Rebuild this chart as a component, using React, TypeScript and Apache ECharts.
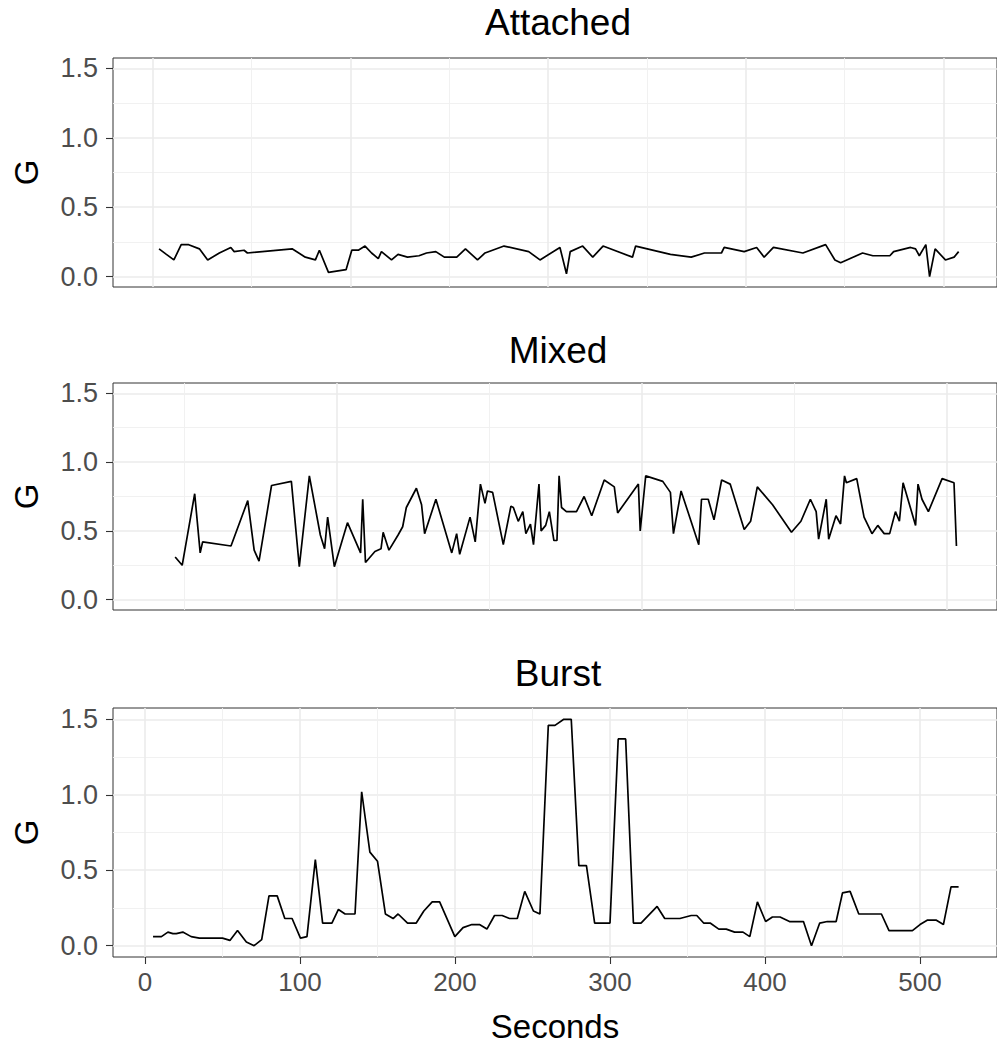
import React, { useEffect, useRef } from "react";
import * as echarts from "echarts";

// ---------- data ----------
const panelTitles = ["Attached", "Mixed", "Burst"];
const yTickValues = [0, 0.5, 1.0, 1.5];
const secondsTicks = [0, 100, 200, 300, 400, 500];
const attachedGridTicks = [0, 100, 200, 300, 400];
const mixedGridTicks = [100, 200, 300];

const attachedX = [3.2, 6.9, 10.7, 14.4, 18.2, 23.6, 27.8, 33.7, 39.5, 41.2, 46.2, 47.9, 70.5, 77.2, 82.3, 84.3, 88.9, 97.8, 100.7, 104, 107.4, 110.7, 114.1, 115.7, 120.8, 124.1, 128.9, 134.7, 138.5, 143.2, 147.5, 153.8, 158.2, 164.3, 168.1, 177.7, 190.2, 195.9, 206, 209.3, 211.2, 217.5, 222.6, 227.8, 242.7, 244.3, 261.9, 272.4, 279.1, 287.7, 289.1, 299.2, 305.5, 309.3, 314, 328.9, 340.4, 345.1, 348, 359.1, 364.3, 372.9, 374.8, 383.4, 385.9, 387.8, 391.1, 393, 395.8, 401, 405.4, 407.7];
const attachedG = [0.2, 0.16, 0.12, 0.23, 0.23, 0.2, 0.12, 0.17, 0.21, 0.18, 0.19, 0.17, 0.2, 0.14, 0.12, 0.19, 0.03, 0.05, 0.19, 0.19, 0.22, 0.17, 0.13, 0.18, 0.12, 0.16, 0.14, 0.15, 0.17, 0.18, 0.14, 0.14, 0.2, 0.12, 0.17, 0.22, 0.18, 0.12, 0.21, 0.02, 0.18, 0.22, 0.14, 0.22, 0.14, 0.22, 0.16, 0.14, 0.17, 0.17, 0.21, 0.18, 0.21, 0.14, 0.21, 0.17, 0.23, 0.12, 0.1, 0.17, 0.15, 0.15, 0.18, 0.21, 0.2, 0.15, 0.23, 0.0, 0.2, 0.12, 0.14, 0.18];

const mixedX = [47.1, 49.4, 53.5, 55.3, 56.1, 65.4, 70.9, 73, 74.6, 78.7, 85.2, 87.8, 91.1, 94.7, 96.1, 97.1, 99.3, 103.6, 107.9, 108.6, 109.5, 112.6, 114.6, 115.3, 117.2, 120.2, 121.7, 122.9, 126.2, 127.9, 128.9, 132.6, 137.8, 139.4, 140.4, 143.8, 145.5, 147.2, 148.7, 149.5, 151.2, 154.7, 157.2, 158, 159.6, 161.1, 162.1, 163.6, 164.6, 166.4, 167.1, 168.6, 169.8, 171.3, 172.3, 173, 173.8, 175.4, 178.7, 181.2, 183.7, 187.8, 191.1, 192.2, 199, 199.6, 201.4, 207, 209.5, 210.5, 213, 218.8, 219.7, 221.9, 223.8, 226.3, 229.1, 233.7, 235.8, 238, 243, 249.2, 252.3, 255.4, 257.3, 258.1, 260.6, 261.4, 263.8, 265.3, 266.6, 267.2, 270.6, 273, 275.6, 277.5, 279.6, 281.4, 283.3, 284.6, 285.8, 289.9, 290.7, 292, 294.1, 298.6, 302.5, 303.3];
const mixedG = [0.31, 0.25, 0.77, 0.34, 0.42, 0.39, 0.72, 0.36, 0.28, 0.83, 0.86, 0.24, 0.9, 0.47, 0.37, 0.6, 0.24, 0.56, 0.34, 0.73, 0.27, 0.35, 0.37, 0.49, 0.36, 0.47, 0.53, 0.67, 0.81, 0.69, 0.48, 0.73, 0.34, 0.48, 0.33, 0.6, 0.42, 0.84, 0.7, 0.79, 0.78, 0.4, 0.68, 0.67, 0.57, 0.64, 0.48, 0.55, 0.4, 0.84, 0.5, 0.54, 0.64, 0.43, 0.43, 0.9, 0.67, 0.64, 0.64, 0.75, 0.61, 0.87, 0.82, 0.63, 0.84, 0.5, 0.9, 0.86, 0.78, 0.48, 0.79, 0.4, 0.73, 0.73, 0.58, 0.87, 0.84, 0.51, 0.57, 0.82, 0.69, 0.49, 0.57, 0.73, 0.64, 0.44, 0.73, 0.44, 0.61, 0.55, 0.9, 0.85, 0.88, 0.6, 0.48, 0.54, 0.48, 0.48, 0.64, 0.57, 0.85, 0.54, 0.84, 0.73, 0.64, 0.88, 0.85, 0.39];

const burstSeconds = [5.2, 10.6, 14.8, 18, 20.2, 24.4, 29.8, 35.1, 50, 54.8, 59.7, 65.4, 70.4, 75.3, 80, 85.3, 90.2, 94.9, 100.3, 104.5, 109.9, 114.6, 120.6, 124.8, 129.1, 135.5, 139.8, 145.1, 150, 155.1, 160.1, 163.3, 169.4, 175, 179.9, 185.3, 190.1, 199.9, 205.2, 210.9, 215.8, 220.6, 225.5, 230.4, 235.2, 240.2, 245, 250.6, 254.8, 260.2, 264.5, 270.2, 275, 279.9, 284.8, 290.1, 300, 305.3, 310.1, 315.1, 320, 330.4, 335.3, 345.1, 352.4, 356, 360.4, 364.6, 370.2, 375, 380.4, 385.8, 390.2, 395.1, 400.4, 404.8, 409.7, 415.8, 424.8, 430, 435.3, 440.2, 445.9, 450, 454.9, 460.5, 465.9, 475.1, 480, 485.4, 495.1, 500, 504.9, 510.3, 515.1, 520, 524.9];
const burstG = [0.06, 0.06, 0.09, 0.08, 0.08, 0.09, 0.06, 0.05, 0.05, 0.035, 0.1, 0.025, 0.0, 0.04, 0.33, 0.33, 0.18, 0.18, 0.05, 0.06, 0.57, 0.15, 0.15, 0.24, 0.21, 0.21, 1.02, 0.62, 0.56, 0.21, 0.18, 0.21, 0.15, 0.15, 0.23, 0.29, 0.29, 0.06, 0.12, 0.14, 0.14, 0.11, 0.2, 0.2, 0.18, 0.18, 0.36, 0.23, 0.21, 1.46, 1.46, 1.5, 1.5, 0.53, 0.53, 0.15, 0.15, 1.37, 1.37, 0.15, 0.15, 0.26, 0.18, 0.18, 0.2, 0.2, 0.15, 0.15, 0.11, 0.11, 0.09, 0.09, 0.06, 0.29, 0.16, 0.19, 0.19, 0.16, 0.16, 0.0, 0.15, 0.16, 0.16, 0.35, 0.36, 0.21, 0.21, 0.21, 0.1, 0.1, 0.1, 0.14, 0.17, 0.17, 0.14, 0.39, 0.39];

const FONT = "'Liberation Sans', Arial, Helvetica, sans-serif";

export default function App() {
  const ref = useRef<HTMLDivElement>(null);

  useEffect(() => {
    if (!ref.current) return;
    const chart = echarts.init(ref.current, null, { renderer: "svg" });

    const grids = [
      { left: 113, top: 58, width: 890, height: 229 },
      { left: 113, top: 383, width: 890, height: 227 },
      { left: 113, top: 708, width: 890, height: 249 },
    ].map((g) => ({ ...g, show: true, borderColor: "#333333", borderWidth: 1, backgroundColor: "#ffffff" }));

    const splitLine = { show: true, lineStyle: { color: "#EBEBEB", width: 1.6 } };
    const minorSplitLine = { show: true, lineStyle: { color: "#EFEFEF", width: 0.9 } };
    const minorTick = { show: false, splitNumber: 2 };

    const xExtents = [
      { min: -20.1, max: 427.1, ticks: attachedGridTicks },
      { min: 26.71, max: 316.6, ticks: mixedGridTicks },
      { min: -20.63, max: 549.67, ticks: secondsTicks },
    ];

    const xAxes = xExtents.map((e, i) => {
      const isBottom = i === 2;
      return {
        type: "value",
        gridIndex: i,
        position: "bottom",
        min: e.min,
        max: e.max,
        minInterval: 100,
        maxInterval: 100,
        axisLine: { show: false, onZero: false },
        axisTick: {
          show: isBottom,
          customValues: e.ticks,
          length: 7,
          lineStyle: { color: "#333333", width: 1.1 },
        },
        axisLabel: {
          show: isBottom,
          customValues: e.ticks,
          margin: 12,
          fontSize: 26,
          color: "#4D4D4D",
          fontFamily: FONT,
        },
        splitLine,
        minorTick,
        minorSplitLine,
        name: isBottom ? "Seconds" : "",
        nameLocation: "middle",
        nameGap: 53,
        nameTextStyle: { fontSize: 33, color: "#000000", fontFamily: FONT },
      };
    });

    const yAxes = [0, 1, 2].map((i) => ({
      type: "value",
      gridIndex: i,
      position: "left",
      min: -0.075,
      max: 1.575,
      minInterval: 0.5,
      maxInterval: 0.5,
      axisLine: { show: false, onZero: false },
      axisTick: {
        show: true,
        customValues: yTickValues,
        length: 7,
        lineStyle: { color: "#333333", width: 1.1 },
      },
      axisLabel: {
        show: true,
        customValues: yTickValues,
        margin: 15,
        fontSize: 27,
        color: "#4D4D4D",
        fontFamily: FONT,
        formatter: (v: number) => v.toFixed(1),
      },
      splitLine,
      minorTick,
      minorSplitLine,
      name: "G",
      nameLocation: "middle",
      nameRotate: 90,
      nameGap: 70,
      nameTextStyle: { fontSize: 33, color: "#000000", fontFamily: FONT },
    }));

    const seriesData = [
      attachedX.map((x, k) => [x, attachedG[k]]),
      mixedX.map((x, k) => [x, mixedG[k]]),
      burstSeconds.map((x, k) => [x, burstG[k]]),
    ];

    const series = seriesData.map((d, i) => ({
      type: "line",
      name: panelTitles[i],
      xAxisIndex: i,
      yAxisIndex: i,
      data: d,
      showSymbol: false,
      symbol: "none",
      silent: true,
      clip: true,
      lineStyle: { color: "#000000", width: 1.7 },
    }));

    const titleY = [22, 350, 673];
    const graphic = panelTitles.map((t, i) => ({
      type: "text",
      x: 558,
      y: titleY[i],
      silent: true,
      style: {
        text: t,
        fill: "#000000",
        fontSize: 37,
        fontFamily: FONT,
        textAlign: "center",
        textVerticalAlign: "middle",
        align: "center",
        verticalAlign: "middle",
      },
    }));

    chart.setOption({
      animation: false,
      backgroundColor: "#ffffff",
      grid: grids,
      xAxis: xAxes,
      yAxis: yAxes,
      series,
      graphic,
    });

    return () => chart.dispose();
  }, []);

  return (
    <div
      ref={ref}
      style={{ position: "fixed", left: 0, top: 0, width: 997, height: 1045, background: "#ffffff" }}
    />
  );
}
